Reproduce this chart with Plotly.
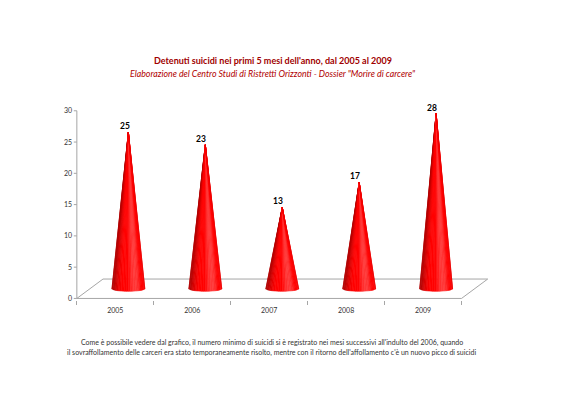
import math
import plotly.graph_objects as go

# data
years = ["2005", "2006", "2007", "2008", "2009"]
suicidi = [25, 23, 13, 17, 28]
y_ticks = [0, 5, 10, 15, 20, 25, 30]

title = "Detenuti suicidi nei primi 5 mesi dell'anno, dal 2005 al 2009"
subtitle = 'Elaborazione del Centro Studi di Ristretti Orizzonti - Dossier "Morire di carcere"'
note_lines = [
    "Come è possibile vedere dal grafico, il numero minimo di suicidi si è registrato nei mesi successivi all'indulto del 2006, quando",
    "il sovraffollamento delle carceri era stato temporaneamente risolto, mentre con il ritorno dell'affollamento c'è un nuovo picco di suicidi",
]

FONT = "Lato"
GRAY = "#A6A6A6"

# fake 3d: depth offset of the floor (x in category units, y in value units)
DX, DY = 0.34, 3.1
RX, RY = 0.215, 0.4      # cone base radius / ellipse half height
N_SLICES = 28
TICK_W = 0.04            # y tick length in x units


def shade(theta):
    # facing angle of the slice, light slightly from the right
    phi = theta - 1.5 * math.pi
    s = max(math.cos(phi - 0.45), 0.0)
    r = 178 + 77 * min(s / 0.65, 1.0)
    w = 0.0
    if s > 0.9:
        w = (s - 0.9) / 0.1 * 0.22
    r = r + (255 - r) * w
    gb = 255 * w
    return "rgb(%d,%d,%d)" % (r, gb, gb)


fig = go.Figure()

# floor
n = len(years)
fig.add_trace(go.Scatter(
    x=[-0.5, n - 0.5, n - 0.5 + DX, -0.5 + DX, -0.5],
    y=[0, 0, DY, DY, 0],
    mode="lines", line=dict(color=GRAY, width=1),
    hoverinfo="skip", showlegend=False))

# y axis line with its ticks
ax_x, ax_y = [-0.5, -0.5], [0, y_ticks[-1]]
for t in y_ticks:
    ax_x += [None, -0.5 - TICK_W, -0.5]
    ax_y += [None, t, t]
fig.add_trace(go.Scatter(
    x=ax_x, y=ax_y, mode="lines", line=dict(color=GRAY, width=1),
    hoverinfo="skip", showlegend=False))

# cones
for i, v in enumerate(suicidi):
    cx = i + DX / 2
    by = DY / 2
    top = v + by
    for k in range(N_SLICES):
        t0 = math.pi + math.pi * k / N_SLICES
        t1 = math.pi + math.pi * (k + 1) / N_SLICES
        col = shade((t0 + t1) / 2)
        fig.add_trace(go.Scatter(
            x=[cx, cx + RX * math.cos(t0), cx + RX * math.cos(t1), cx],
            y=[top, by + RY * math.sin(t0), by + RY * math.sin(t1), top],
            mode="lines", fill="toself", fillcolor=col,
            line=dict(color=col, width=0.6),
            hoverinfo="skip", showlegend=False))
    fig.add_annotation(x=cx - 0.05, y=top, yshift=-1, text="<b>%d</b>" % v,
                       showarrow=False, yanchor="bottom",
                       font=dict(family=FONT, size=8.5, color="#000000"))

fig.add_annotation(xref="x", yref="paper", x=2.05, y=1.187,
                   text="<b>%s</b>" % title, showarrow=False,
                   font=dict(family=FONT, size=9, color="#A00000"))
fig.add_annotation(xref="x", yref="paper", x=2.04, y=1.125,
                   text="<i>%s</i>" % subtitle, showarrow=False,
                   font=dict(family=FONT, size=8.8, color="#B00000"))
for line, py in zip(note_lines, [-0.235, -0.283]):
    fig.add_annotation(xref="x", yref="paper", x=2.03, y=py,
                       text=line, showarrow=False,
                       font=dict(family=FONT, size=7, color="#333333"))

# the page body adds an 8px margin, so the figure is 8px smaller
fig.update_layout(
    width=576, height=404,
    margin=dict(l=65.15, r=83.5, t=84.3, b=112.44),
    paper_bgcolor="white", plot_bgcolor="white",
    font=dict(family=FONT, size=7, color="#333333"),
    xaxis=dict(range=[-0.55, 5.0], tickvals=list(range(n)), ticktext=years,
               ticks="", ticklabelstandoff=5, showgrid=False, zeroline=False,
               showline=False, tickfont=dict(size=7),
               minor=dict(tickvals=[b - 0.5 for b in range(n + 1)],
                          ticks="outside", ticklen=4, tickcolor=GRAY,
                          showgrid=False)),
    yaxis=dict(range=[-0.25, 33], tickvals=y_ticks, ticks="",
               showgrid=False, zeroline=False, showline=False,
               tickfont=dict(size=7)),
)

fig.write_html("out.html")
